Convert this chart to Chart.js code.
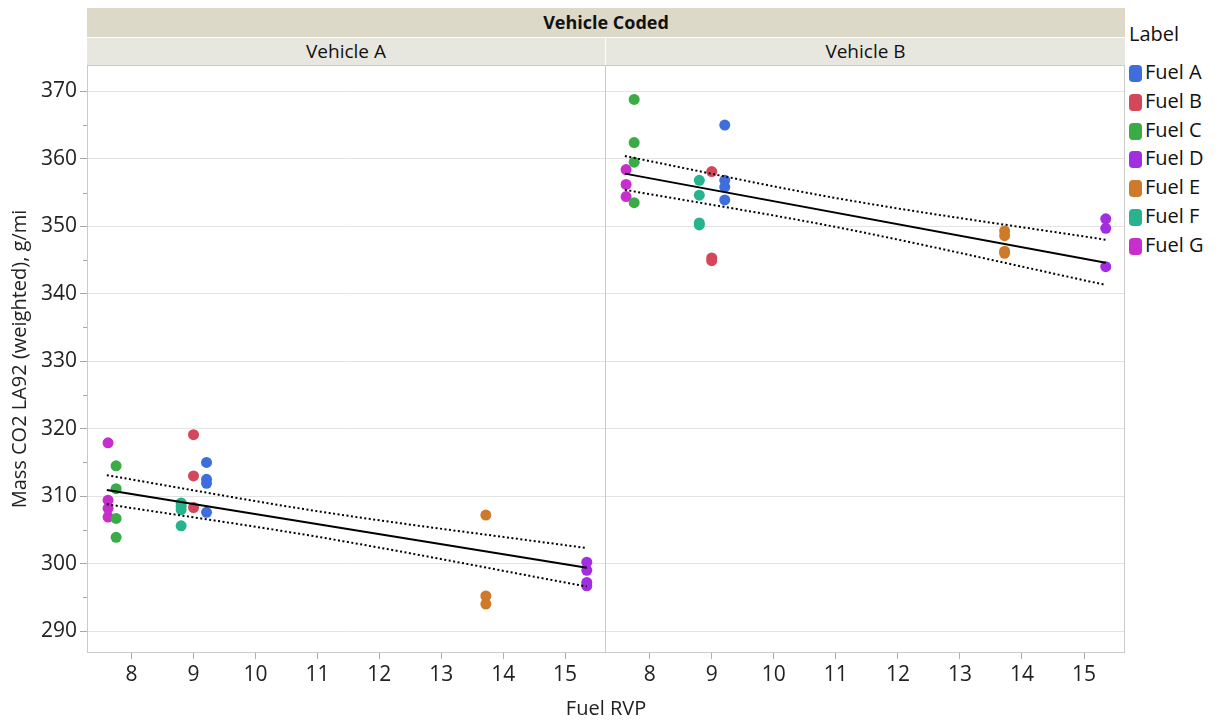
<!DOCTYPE html>
<html>
<head>
<meta charset="utf-8">
<script src="https://cdn.jsdelivr.net/npm/chart.js@4/dist/chart.umd.min.js"></script>
<style>
  body { margin: 0; background: #fff; font-family: "Open Sans", sans-serif; }
  #wrap { position: relative; width: 1219px; height: 724px; overflow: hidden; }
  .hdr { position: absolute; text-align: center; color: #111; }
  #hdrTop { left: 87px; top: 8px; width: 1038px; height: 29px; line-height: 29px;
            background: #dcd9c8; font-weight: bold; font-size: 18px; }
  .facet { top: 38px; height: 27px; line-height: 27px; background: #e8e7df; font-size: 19px; }
  #facetA { left: 87px; width: 518px; }
  #facetB { left: 606px; width: 519px; }
  canvas { position: absolute; }
  #xTitle { position: absolute; left: 506px; width: 200px; top: 694px; text-align: center;
            font-size: 20px; color: #222; }
  #legend { position: absolute; left: 1129px; top: 20px; font-size: 20px; color: #111; }
  #legend .ttl { height: 30px; line-height: 28px; margin-bottom: 8px; }
  #legend .row { height: 28.8px; line-height: 28px; white-space: nowrap; }
  #legend .sw { display: inline-block; width: 13px; height: 17px; border-radius: 4px;
                vertical-align: -3px; margin-right: 3px; }
</style>
</head>
<body>
<div id="wrap">
  <div id="hdrTop" class="hdr">Vehicle Coded</div>
  <div id="facetA" class="hdr facet">Vehicle A</div>
  <div id="facetB" class="hdr facet">Vehicle B</div>
  <canvas id="chartA" width="606" height="659" style="left:0;top:65px"></canvas>
  <canvas id="chartB" width="520" height="659" style="left:605px;top:65px"></canvas>
  <div id="xTitle">Fuel RVP</div>
  <div id="legend"><div class="ttl">Label</div></div>
</div>

<script>
// fuels and their RVP
const fuels = ['Fuel A', 'Fuel B', 'Fuel C', 'Fuel D', 'Fuel E', 'Fuel F', 'Fuel G'];
const fuelRvp = [9.21, 9.0, 7.75, 15.35, 13.72, 8.8, 7.62];
const fuelColors = ['#3e6edc', '#d4465a', '#3bab45', '#a22ee0', '#cf7a2b', '#27b38e', '#c72ecb'];

// Mass CO2 per test, vehicle A
const aFuelA = [315.0, 312.5, 311.9, 307.6];
const aFuelB = [319.1, 313.0, 308.3];
const aFuelC = [314.5, 311.1, 306.7, 303.9];
const aFuelD = [300.2, 299.0, 297.2, 296.7];
const aFuelE = [307.2, 295.2, 294.0];
const aFuelF = [309.0, 308.5, 308.0, 305.6];
const aFuelG = [317.9, 309.4, 308.2, 306.9];

// Mass CO2 per test, vehicle B
const bFuelA = [365.0, 356.8, 355.8, 353.9];
const bFuelB = [358.1, 345.3, 344.9];
const bFuelC = [368.8, 362.4, 359.5, 353.5];
const bFuelD = [351.1, 349.7, 344.0];
const bFuelE = [349.3, 348.6, 346.3, 346.0];
const bFuelF = [356.8, 354.6, 350.5, 350.2];
const bFuelG = [358.4, 356.2, 354.4];

// fit line and confidence band
const fitX = [7.6, 15.35];
const fitA = [310.9, 299.4];
const fitB = [357.8, 344.6];
const bandX = [7.6, 11.05, 15.35];
const upperA = [313.1, 307.7, 302.3];
const lowerA = [308.8, 303.9, 296.6];
const upperB = [360.4, 354.1, 348.0];
const lowerB = [355.4, 349.8, 341.3];

// axes
const yTicks = [290, 300, 310, 320, 330, 340, 350, 360, 370];
const xTicks = [8, 9, 10, 11, 12, 13, 14, 15];
const yMin = 286.75, yMax = 373.9;
const xMin = 7.28, xMax = 15.66;

const tickFont = { family: 'Open Sans', size: 21 };

function pts(xs, ys) {
  return ys.map((y, i) => ({ x: xs[i], y: y }));
}

function buildDatasets(groups, fit, upper, lower) {
  const sets = groups.map((vals, i) => ({
    label: fuels[i],
    data: vals.map(v => ({ x: fuelRvp[i], y: v })),
    backgroundColor: fuelColors[i],
    borderColor: fuelColors[i],
    pointRadius: 5.5,
    borderWidth: 0,
    order: 1
  }));
  sets.push({
    label: 'fit',
    data: pts(fitX, fit),
    showLine: true,
    borderColor: '#000',
    borderWidth: 2,
    pointRadius: 0,
    order: 0
  });
  [upper, lower].forEach(b => {
    sets.push({
      label: 'band',
      data: pts(bandX, b),
      showLine: true,
      borderColor: '#000',
      borderWidth: 2,
      borderDash: [2, 2.5],
      cubicInterpolationMode: 'monotone',
      pointRadius: 0,
      order: 0
    });
  });
  return sets;
}

// no auto padding, the panels have to sit edge to edge
function noPad(s) {
  s.paddingTop = 0;
  s.paddingBottom = 0;
  s.paddingLeft = 0;
  s.paddingRight = 0;
}

// grey frame round each panel + short minor ticks at the 5s
const framePlugin = {
  id: 'frame',
  afterDraw(chart, args, opts) {
    const { ctx, chartArea: a } = chart;
    ctx.save();
    ctx.strokeStyle = '#cacaca';
    ctx.lineWidth = 1;
    ctx.strokeRect(a.left + 0.5, a.top + 0.5, a.right - a.left - 1, a.bottom - a.top - 1);
    if (opts.minor) {
      const ys = chart.scales.y;
      ctx.strokeStyle = '#a8a8a8';
      ctx.beginPath();
      for (let v = 295; v < yMax; v += 10) {
        const py = Math.round(ys.getPixelForValue(v)) + 0.5;
        ctx.moveTo(a.left - 4, py);
        ctx.lineTo(a.left, py);
      }
      ctx.stroke();
    }
    ctx.restore();
  }
};

function makeChart(id, datasets, withAxis) {
  return new Chart(document.getElementById(id), {
    type: 'scatter',
    data: { datasets: datasets },
    plugins: [framePlugin],
    options: {
      responsive: false,
      animation: false,
      events: [],
      layout: { padding: 0, autoPadding: false },
      plugins: {
        legend: { display: false },
        tooltip: { enabled: false },
        frame: { minor: withAxis }
      },
      scales: {
        x: {
          type: 'linear',
          min: xMin,
          max: xMax,
          border: { display: false },
          grid: { drawOnChartArea: false, tickLength: 6, tickColor: '#b0b0b0' },
          afterBuildTicks: s => { s.ticks = xTicks.map(v => ({ value: v })); },
          afterFit: s => { s.height = 71; noPad(s); },
          ticks: { font: tickFont, color: '#222', padding: 3, maxRotation: 0 }
        },
        y: {
          type: 'linear',
          min: yMin,
          max: yMax,
          border: { display: false },
          grid: { color: '#e3e3e3', drawTicks: withAxis, tickLength: 7, tickColor: '#a8a8a8' },
          afterBuildTicks: s => { s.ticks = yTicks.map(v => ({ value: v })); },
          afterFit: s => { s.width = withAxis ? 87 : 0; noPad(s); },
          ticks: { display: withAxis, font: tickFont, color: '#222', padding: 3 },
          title: {
            display: withAxis,
            text: 'Mass CO2 LA92 (weighted), g/mi',
            font: { family: 'Open Sans', size: 20 },
            color: '#222',
            padding: { top: 8, bottom: 0 }
          }
        }
      }
    }
  });
}

makeChart('chartA',
  buildDatasets([aFuelA, aFuelB, aFuelC, aFuelD, aFuelE, aFuelF, aFuelG], fitA, upperA, lowerA), true);
makeChart('chartB',
  buildDatasets([bFuelA, bFuelB, bFuelC, bFuelD, bFuelE, bFuelF, bFuelG], fitB, upperB, lowerB), false);

// legend
const legend = document.getElementById('legend');
fuels.forEach((f, i) => {
  const row = document.createElement('div');
  row.className = 'row';
  row.innerHTML = '<span class="sw" style="background:' + fuelColors[i] + '"></span>' + f;
  legend.appendChild(row);
});
</script>
</body>
</html>
